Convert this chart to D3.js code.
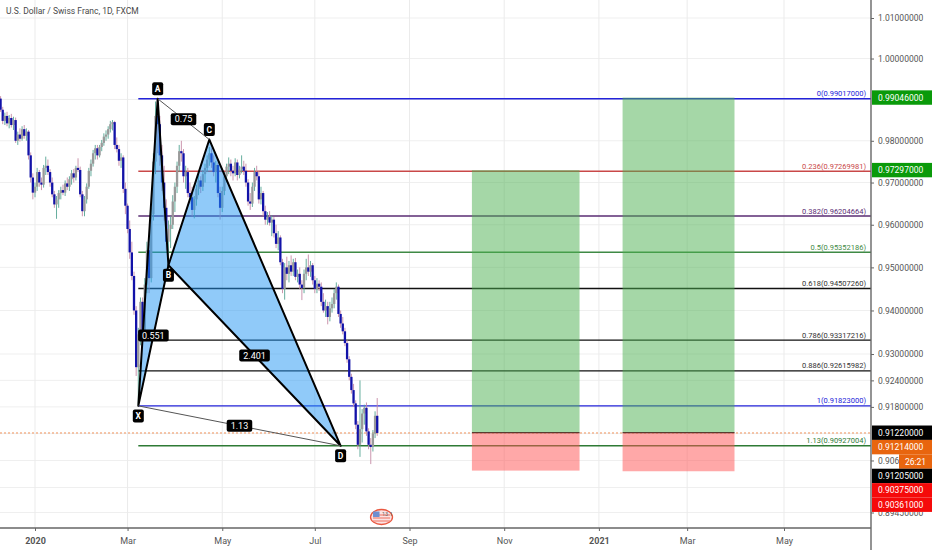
<!DOCTYPE html>
<html>
<head>
<meta charset="utf-8">
<script src="https://cdn.jsdelivr.net/npm/d3@7"></script>
<style>
  body { margin: 0; background: #fff; }
  svg { display: block; font-family: Roboto, "Liberation Sans", sans-serif; }
</style>
</head>
<body>
<div id="chart"></div>
<script>
// ---- data ----
const title = "U.S. Dollar / Swiss Franc, 1D, FXCM";
const firstBar = "2019-12-10";   // first daily candle on screen
const lastCalendarDay = "2021-06-30";

// daily candles [open, high, low, close], one per weekday from firstBar
const ohlc = [
  // Dec 2019
  [.9902,.9908,.9870,.9875],[.9875,.9882,.9840,.9848],[.9848,.9868,.9838,.9860],[.9860,.9870,.9835,.9842],
  [.9842,.9862,.9830,.9855],[.9855,.9865,.9832,.9838],[.9838,.9858,.9826,.9850],[.9850,.9856,.9795,.9800],
  [.9800,.9822,.9790,.9815],[.9815,.9830,.9798,.9805],[.9805,.9835,.9800,.9828],[.9828,.9838,.9805,.9812],
  [.9812,.9830,.9800,.9822],[.9822,.9826,.9755,.9765],[.9765,.9772,.9700,.9712],[.9712,.9722,.9660,.9676],
  // Jan 2020
  [.9676,.9700,.9665,.9690],[.9690,.9735,.9680,.9725],[.9725,.9730,.9690,.9700],[.9700,.9712,.9682,.9695],
  [.9695,.9742,.9688,.9735],[.9735,.9762,.9718,.9740],[.9740,.9755,.9718,.9725],[.9725,.9732,.9690,.9700],
  [.9700,.9712,.9665,.9672],[.9672,.9680,.9640,.9648],[.9648,.9668,.9614,.9660],[.9660,.9682,.9640,.9675],
  [.9675,.9690,.9660,.9682],[.9682,.9695,.9670,.9676],[.9676,.9705,.9668,.9698],[.9698,.9712,.9682,.9690],
  [.9690,.9715,.9680,.9708],[.9708,.9730,.9695,.9722],[.9722,.9732,.9700,.9712],[.9712,.9740,.9705,.9735],
  [.9735,.9758,.9725,.9730],[.9730,.9738,.9665,.9672],[.9672,.9680,.9620,.9632],
  // Feb 2020
  [.9632,.9668,.9620,.9660],[.9660,.9698,.9650,.9690],[.9690,.9735,.9685,.9728],[.9728,.9755,.9715,.9745],
  [.9745,.9778,.9738,.9770],[.9770,.9790,.9755,.9782],[.9782,.9790,.9755,.9765],[.9765,.9790,.9760,.9785],
  [.9785,.9802,.9775,.9795],[.9795,.9818,.9788,.9810],[.9810,.9825,.9800,.9815],[.9815,.9835,.9805,.9828],
  [.9828,.9848,.9820,.9840],[.9840,.9850,.9825,.9845],[.9845,.9848,.9780,.9790],[.9790,.9808,.9772,.9780],
  [.9780,.9790,.9740,.9752],[.9752,.9770,.9735,.9760],[.9760,.9765,.9675,.9685],[.9685,.9700,.9625,.9645],
  // Mar 2020
  [.9645,.9650,.9580,.9590],[.9590,.9610,.9520,.9535],[.9535,.9560,.9470,.9480],[.9480,.9490,.9390,.9400],
  [.9400,.9410,.9250,.9270],[.9270,.9360,.9183,.9345],[.9345,.9430,.9320,.9420],[.9420,.9430,.9340,.9355],
  [.9355,.9475,.9340,.9460],[.9460,.9560,.9440,.9540],[.9540,.9555,.9440,.9475],[.9475,.9640,.9465,.9625],
  [.9625,.9770,.9610,.9750],[.9750,.9895,.9720,.9860],[.9860,.9902,.9770,.9840],[.9840,.9860,.9740,.9765],
  [.9765,.9790,.9680,.9700],[.9700,.9740,.9610,.9640],[.9640,.9660,.9540,.9560],[.9560,.9610,.9502,.9590],
  [.9590,.9620,.9545,.9600],[.9600,.9670,.9590,.9655],
  // Apr 2020
  [.9655,.9700,.9630,.9690],[.9690,.9750,.9675,.9740],[.9740,.9790,.9725,.9775],[.9775,.9800,.9750,.9770],
  [.9770,.9780,.9700,.9715],[.9715,.9740,.9685,.9725],[.9725,.9735,.9665,.9675],[.9675,.9700,.9650,.9665],
  [.9665,.9690,.9620,.9635],[.9635,.9668,.9615,.9660],[.9660,.9695,.9645,.9685],[.9685,.9720,.9670,.9705],
  [.9705,.9715,.9675,.9690],[.9690,.9730,.9680,.9720],[.9720,.9745,.9700,.9735],[.9735,.9765,.9725,.9755],
  [.9755,.9785,.9740,.9770],[.9770,.9782,.9735,.9748],[.9748,.9765,.9715,.9725],[.9725,.9752,.9700,.9742],
  [.9742,.9748,.9665,.9675],[.9675,.9690,.9612,.9640],
  // May 2020
  [.9640,.9690,.9630,.9680],[.9680,.9725,.9670,.9715],[.9715,.9745,.9700,.9738],[.9738,.9760,.9720,.9745],
  [.9745,.9755,.9715,.9728],[.9728,.9740,.9705,.9722],[.9722,.9758,.9715,.9748],[.9748,.9755,.9705,.9718],
  [.9718,.9740,.9710,.9732],[.9732,.9765,.9722,.9738],[.9738,.9752,.9718,.9728],[.9728,.9745,.9690,.9700],
  [.9700,.9708,.9645,.9655],[.9655,.9675,.9635,.9650],[.9650,.9700,.9642,.9690],[.9690,.9735,.9680,.9725],
  [.9725,.9740,.9705,.9715],[.9715,.9728,.9650,.9660],[.9660,.9690,.9648,.9675],[.9675,.9680,.9620,.9632],
  [.9632,.9645,.9600,.9612],
  // Jun 2020
  [.9612,.9630,.9600,.9618],[.9618,.9632,.9598,.9605],[.9605,.9622,.9573,.9612],[.9612,.9618,.9570,.9580],
  [.9580,.9600,.9545,.9555],[.9555,.9585,.9540,.9570],[.9570,.9575,.9505,.9512],[.9512,.9520,.9440,.9450],
  [.9450,.9510,.9425,.9500],[.9500,.9525,.9470,.9485],[.9485,.9515,.9465,.9505],[.9505,.9528,.9480,.9490],
  [.9490,.9520,.9480,.9512],[.9512,.9522,.9470,.9478],[.9478,.9495,.9465,.9485],[.9485,.9500,.9450,.9460],
  [.9460,.9470,.9424,.9452],[.9452,.9495,.9440,.9485],[.9485,.9520,.9470,.9500],[.9500,.9530,.9480,.9490],
  [.9490,.9515,.9478,.9505],[.9505,.9510,.9460,.9470],
  // Jul 2020
  [.9470,.9480,.9440,.9450],[.9450,.9475,.9440,.9462],[.9462,.9470,.9445,.9455],[.9455,.9465,.9410,.9420],
  [.9420,.9440,.9395,.9400],[.9400,.9425,.9385,.9410],[.9410,.9420,.9368,.9385],[.9385,.9420,.9375,.9405],
  [.9405,.9430,.9395,.9415],[.9415,.9450,.9405,.9440],[.9440,.9465,.9425,.9455],[.9455,.9460,.9385,.9392],
  [.9392,.9400,.9360,.9370],[.9370,.9385,.9345,.9352],[.9352,.9360,.9318,.9325],[.9325,.9332,.9280,.9288],
  [.9288,.9295,.9240,.9248],[.9248,.9255,.9210,.9218],[.9218,.9232,.9180,.9188],[.9188,.9195,.9130,.9140],
  [.9140,.9148,.9085,.9095],[.9095,.9240,.9068,.9130],[.9130,.9175,.9100,.9165],
  // Aug 2020
  [.9165,.9185,.9140,.9178],[.9178,.9190,.9115,.9125],[.9125,.9132,.9085,.9095],[.9095,.9110,.9052,.9090],
  [.9090,.9128,.9080,.9120],[.9120,.9170,.9110,.9160],[.9160,.9200,.9115,.91214]
];

const priceTicks = [1.01, 1.00, 0.99, 0.98, 0.97, 0.96, 0.95, 0.94, 0.93, 0.924, 0.918, 0.912, 0.906, 0.900, 0.8945];
const monthTickDates = ["2020-01-01","2020-03-02","2020-05-01","2020-07-01","2020-09-01","2020-11-02","2021-01-01","2021-03-01","2021-05-03"];
const monthTickLabels = ["2020","Mar","May","Jul","Sep","Nov","2021","Mar","May"];
const yearLabels = ["2020","2021"];

// XABCD harmonic pattern
const patternNames = ["X","A","B","C","D"];
const patternDates = ["2020-03-09","2020-03-20","2020-03-27","2020-04-23","2020-07-17"];
const patternPrices = [0.91823, 0.99017, 0.9505, 0.9803, 0.90927];
const ratioFrom = ["X","A","B","X"];
const ratioTo   = ["B","C","D","D"];
const ratioText = ["0.551","0.75","2.401","1.13"];

// Fibonacci retracement drawn from X
const fibLevels = [0, 0.236, 0.382, 0.5, 0.618, 0.786, 0.886, 1, 1.13];
const fibPrices = [0.99017, 0.97269981, 0.96204664, 0.95352186, 0.9450726, 0.93317216, 0.92615982, 0.91823, 0.90927004];
const fibColors = ["#2323d9","#c94848","#5a2d73","#3f8a45","#111","#111","#111","#2323d9","#2e7a35"];

// long position tools
const posStart  = ["2020-10-12","2021-01-18"];
const posEnd    = ["2020-12-21","2021-03-31"];
const posEntry  = [0.9122, 0.9122];
const posTarget = [0.97297, 0.99046];
const posStop   = [0.90375, 0.90361];

const lastPrice = 0.91214;
const countdown = "26:21";
const eventDate = "2020-08-13";

// price-scale tags, top to bottom
const tagPrices = [0.99046, 0.97297, 0.9122, 0.91214, 0.91214, 0.91205, 0.90375, 0.90361];
const tagTexts  = ["0.99046000","0.97297000","0.91220000","0.91214000", countdown,"0.91205000","0.90375000","0.90361000"];
const tagColors = ["#0a9a0a","#0a9a0a","#000","#e8650e","#e8650e","#000","#f50a0a","#f50a0a"];

// ---- layout ----
const W = 932, H = 550;
const plotRight = 871, plotBottom = 528;

const svg = d3.select("#chart").append("svg")
  .attr("width", W).attr("height", H);
const defs = svg.append("defs");

defs.append("clipPath").attr("id", "plot-clip")
  .append("rect").attr("x", 0).attr("y", 0).attr("width", plotRight).attr("height", plotBottom);

// weekday calendar used by the time axis (trading bars only)
const parse = d3.utcParse("%Y-%m-%d");
const days = d3.utcDay.range(parse(firstBar), parse(lastCalendarDay))
  .filter(d => d.getUTCDay() !== 0 && d.getUTCDay() !== 6);
const barOf = s => d3.bisectLeft(days, parse(s));

let x = d3.scaleLinear()
  .domain([barOf("2020-01-01"), barOf("2021-05-03")])
  .range([35, 784]);

let y = d3.scaleLog()
  .domain([0.8945, 1.01])
  .range([512.5, 18]);

const bars = ohlc.map((d, i) => ({ i, o: d[0], h: d[1], l: d[2], c: d[3] }));

// grid
svg.append("g")
   .selectAll("line").data(priceTicks).enter().append("line")
   .attr("x1", 0).attr("x2", plotRight)
   .attr("y1", d => y(d)).attr("y2", d => y(d))
   .attr("stroke", "#efefef");

svg.append("g")
   .selectAll("line").data(monthTickDates).enter().append("line")
   .attr("x1", d => x(barOf(d))).attr("x2", d => x(barOf(d)))
   .attr("y1", 0).attr("y2", plotBottom)
   .attr("stroke", "#ebebeb");

const plot = svg.append("g").attr("clip-path", "url(#plot-clip)");

// title
svg.append("text")
   .attr("x", 6).attr("y", 14)
   .style("font-size", "8.5px")
   .style("fill", "#4a4a4a")
   .text(title);

// current price line
plot.append("line")
    .attr("x1", 0).attr("x2", plotRight)
    .attr("y1", y(lastPrice)).attr("y2", y(lastPrice))
    .attr("stroke", "#f0915a")
    .attr("stroke-dasharray", "2,2");

// fib levels
const fibX0 = x(barOf(patternDates[0]));
plot.selectAll(".fib").data(fibLevels).enter().append("line")
    .attr("x1", fibX0).attr("x2", plotRight)
    .attr("y1", (d, i) => y(fibPrices[i])).attr("y2", (d, i) => y(fibPrices[i]))
    .attr("stroke", (d, i) => fibColors[i])
    .attr("stroke-width", 1.4);

plot.selectAll(".fibtxt").data(fibLevels).enter().append("text")
    .attr("x", 866)
    .attr("y", (d, i) => y(fibPrices[i]) - 2.5)
    .attr("text-anchor", "end")
    .style("font-size", "7.5px")
    .style("fill", (d, i) => fibColors[i] === "#111" ? "#333" : fibColors[i])
    .text((d, i) => `${d}(${fibPrices[i].toFixed(8)})`);

// candles
const upBody = "#9a9a9a", upWick = "#55a593", downBody = "#1212a8", downWick = "#c58aa5";
plot.selectAll(".wick").data(bars).enter().append("line")
    .attr("x1", d => x(d.i)).attr("x2", d => x(d.i))
    .attr("y1", d => y(d.h)).attr("y2", d => y(d.l))
    .attr("stroke", d => d.c >= d.o ? upWick : downWick)
    .attr("stroke-width", 0.9);

plot.selectAll(".body").data(bars).enter().append("rect")
    .attr("x", d => x(d.i) - 1.15)
    .attr("width", 2.3)
    .attr("y", d => y(Math.max(d.o, d.c)))
    .attr("height", d => Math.max(1, Math.abs(y(d.o) - y(d.c))))
    .attr("fill", d => d.c >= d.o ? upBody : downBody);

// long positions
posStart.forEach((s, k) => {
   let x0 = x(barOf(s)), x1 = x(barOf(posEnd[k]));
   plot.append("rect")
       .attr("x", x0).attr("width", x1 - x0)
       .attr("y", y(posTarget[k])).attr("height", y(posEntry[k]) - y(posTarget[k]))
       .attr("fill", "rgba(76,175,80,0.5)");
   plot.append("rect")
       .attr("x", x0).attr("width", x1 - x0)
       .attr("y", y(posEntry[k])).attr("height", y(posStop[k]) - y(posEntry[k]))
       .attr("fill", "rgba(255,82,82,0.5)");
   plot.append("line")
       .attr("x1", x0).attr("x2", x1)
       .attr("y1", y(posEntry[k])).attr("y2", y(posEntry[k]))
       .attr("stroke", "#5a3b30").attr("stroke-width", 1.2);
});

// harmonic pattern
const pt = {};
patternNames.forEach((n, i) => pt[n] = [x(barOf(patternDates[i])), y(patternPrices[i])]);

plot.selectAll(".tri").data([["X","A","B"],["B","C","D"]]).enter().append("polygon")
    .attr("points", d => d.map(n => pt[n].join(",")).join(" "))
    .attr("fill", "rgba(33,150,243,0.5)")
    .attr("stroke", "#000")
    .attr("stroke-width", 2)
    .attr("stroke-linejoin", "round");

// thin ratio lines A-C and X-D
plot.selectAll(".ratio").data([["A","C"],["X","D"]]).enter().append("line")
    .attr("x1", d => pt[d[0]][0]).attr("y1", d => pt[d[0]][1])
    .attr("x2", d => pt[d[1]][0]).attr("y2", d => pt[d[1]][1])
    .attr("stroke", "#555").attr("stroke-width", 1);

// ratio labels at the middle of each leg
ratioText.forEach((t, k) => {
   let a = pt[ratioFrom[k]], b = pt[ratioTo[k]];
   let cx = (a[0] + b[0]) / 2, cy = (a[1] + b[1]) / 2;
   let lbl = plot.append("g");
   let r = lbl.append("rect").attr("fill", "#000").attr("rx", 2);
   let tx = lbl.append("text")
       .attr("x", cx).attr("y", cy + 3.2)
       .attr("text-anchor", "middle")
       .style("font-size", "9px")
       .style("fill", "#fff")
       .text(t);
   let w = tx.node().getComputedTextLength() + 8;
   r.attr("x", cx - w / 2).attr("y", cy - 6).attr("width", w).attr("height", 12);
});

// point labels: above peaks, below troughs
patternNames.forEach((n, i) => {
   let nb = [patternPrices[i - 1], patternPrices[i + 1]].filter(v => v !== undefined);
   let peak = nb.every(v => v < patternPrices[i]);
   let cx = pt[n][0], cy = pt[n][1] + (peak ? -10 : 10);
   plot.append("rect")
       .attr("x", cx - 5.5).attr("y", cy - 6.5)
       .attr("width", 11).attr("height", 13)
       .attr("rx", 2).attr("fill", "#000");
   plot.append("text")
       .attr("x", cx).attr("y", cy + 3.2)
       .attr("text-anchor", "middle")
       .style("font-size", "8.5px")
       .style("font-weight", "bold")
       .style("fill", "#fff")
       .text(n);
});

// economic event marker
let ex = x(barOf(eventDate)), ey = plotBottom - 11;
let ev = svg.append("g");
ev.append("ellipse").attr("cx", ex).attr("cy", ey).attr("rx", 11).attr("ry", 7.5)
  .attr("fill", "#fbe3e3").attr("stroke", "#e9573f").attr("stroke-width", 1.3);
[-2, 1, 4].forEach(dy => ev.append("line")
  .attr("x1", ex - 8.5).attr("x2", ex + 8.5).attr("y1", ey + dy).attr("y2", ey + dy)
  .attr("stroke", "#f07a6a").attr("stroke-width", 1.1));
ev.append("rect").attr("x", ex - 8.5).attr("y", ey - 5.5).attr("width", 6.5).attr("height", 5.5).attr("fill", "#6e8fd0");
ev.append("text").attr("x", ex + 0.5).attr("y", ey - 1.5).style("font-size", "5.5px").style("fill", "#666").text("13  1");

// bottom time axis
svg.append("line")
   .attr("x1", 0).attr("x2", plotRight).attr("y1", plotBottom).attr("y2", plotBottom)
   .attr("stroke", "#666").attr("stroke-width", 1.4);

let xAxis = d3.axisBottom(x)
   .tickValues(monthTickDates.map(barOf))
   .tickFormat((d, i) => monthTickLabels[i])
   .tickSize(3);

let xg = svg.append("g")
   .attr("transform", `translate(0, ${plotBottom})`)
   .call(xAxis);
xg.select(".domain").remove();
xg.selectAll("line").attr("stroke", "#666");
xg.selectAll("text")
  .attr("y", 10)
  .style("font-family", "Roboto, sans-serif")
  .style("font-size", "9px")
  .style("fill", "#555")
  .style("font-weight", (d, i) => yearLabels.includes(monthTickLabels[i]) ? "bold" : "normal");

// right price axis
svg.append("line")
   .attr("x1", plotRight).attr("x2", plotRight).attr("y1", 0).attr("y2", H)
   .attr("stroke", "#666").attr("stroke-width", 1.4);

// price tags, pushed down so they do not overlap
const tagH = 14.4;
let prevY = -Infinity;
const tags = tagPrices.map((p, k) => {
   let cy = Math.max(y(p), prevY + tagH);
   prevY = cy;
   let timer = tagTexts[k] === countdown;
   let x0 = timer ? 899 : plotRight + 1;
   return { k, cy, y0: cy - tagH / 2, y1: cy + tagH / 2, x0, timer };
});

// the tick labels only show where no tag covers the scale
let free = [], yc = 0;
tags.forEach(t => {
   if (t.y0 > yc) free.push([plotRight, yc, W - plotRight, t.y0 - yc]);
   yc = Math.max(yc, t.y1);
   if (t.timer) free.push([plotRight, t.y0, t.x0 - plotRight, tagH]);
});
free.push([plotRight, yc, W - plotRight, H - yc]);
defs.append("clipPath").attr("id", "scale-clip")
    .selectAll("rect").data(free).enter().append("rect")
    .attr("x", d => d[0]).attr("y", d => d[1])
    .attr("width", d => d[2]).attr("height", d => d[3]);

const coveredTick = v => tags.some(t => !t.timer && y(v) > t.y0 + 1 && y(v) < t.y1 - 1);

let yAxis = d3.axisRight(y)
   .tickValues(priceTicks.filter(v => !coveredTick(v)))
   .tickFormat(d3.format(".8f"))
   .tickSize(3);

let yg = svg.append("g")
   .attr("clip-path", "url(#scale-clip)")
   .append("g")
   .attr("transform", `translate(${plotRight}, 0)`)
   .call(yAxis);
yg.select(".domain").remove();
yg.selectAll("line").attr("stroke", "#666");
yg.selectAll("text")
  .attr("x", 7)
  .style("font-family", "Roboto, sans-serif")
  .style("font-size", "8.5px")
  .style("fill", "#555");

tags.forEach(t => {
   svg.append("rect")
      .attr("x", t.x0).attr("y", t.y0)
      .attr("width", W - t.x0).attr("height", tagH)
      .attr("fill", tagColors[t.k]);
   svg.append("text")
      .attr("x", t.timer ? (t.x0 + W) / 2 : 878)
      .attr("y", t.cy + 3)
      .attr("text-anchor", t.timer ? "middle" : "start")
      .style("font-size", "8.5px")
      .style("fill", "#fff")
      .text(tagTexts[t.k]);
});
</script>
</body>
</html>
